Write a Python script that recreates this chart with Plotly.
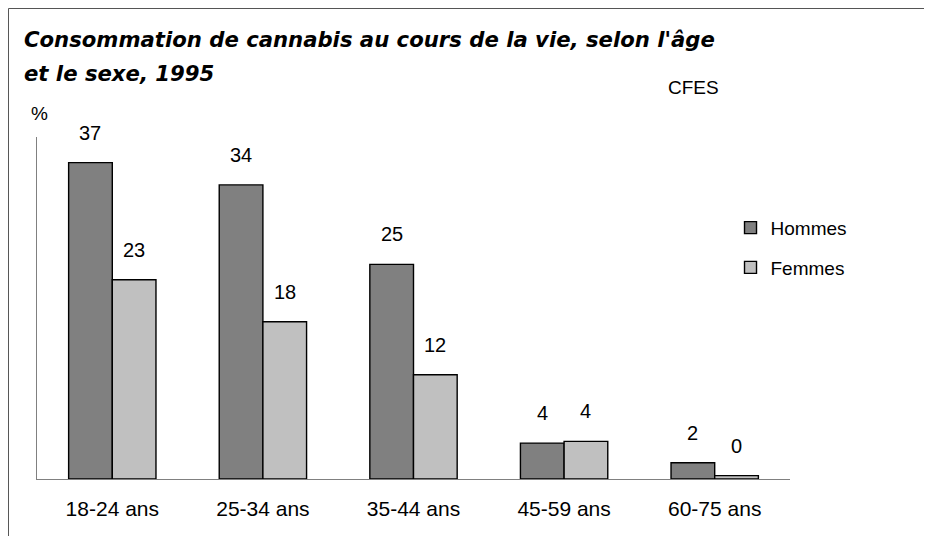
import plotly.graph_objects as go

categories = ["18-24 ans", "25-34 ans", "35-44 ans", "45-59 ans", "60-75 ans"]
hommes = [37.0, 34.4, 25.1, 4.2, 1.9]
femmes = [23.3, 18.4, 12.2, 4.4, 0.4]
series_names = ["Hommes", "Femmes"]
title_lines = ["Consommation de cannabis au cours de la vie, selon l'âge", "et le sexe, 1995"]
source = "CFES"
unit = "%"

DARK = "#808080"
LIGHT = "#c0c0c0"
FONT = "Liberation Sans, Arial, sans-serif"
BARGAP = 0.42

fig = go.Figure()
fig.add_trace(go.Bar(x=categories, y=hommes, name=series_names[0], legendgroup="h",
                     marker=dict(color=DARK, line=dict(color="black", width=1.4))))
fig.add_trace(go.Bar(x=categories, y=femmes, name=series_names[1], legendgroup="f",
                     marker=dict(color=LIGHT, line=dict(color="black", width=1.4))))

half = (1 - BARGAP) / 2
annotations = []
for k, vals in enumerate([hommes, femmes]):
    off = -half / 2 if k == 0 else half / 2
    for i, v in enumerate(vals):
        annotations.append(dict(x=i + off, y=v, xref="x", yref="y", text=f"{v:.0f}",
                                showarrow=False, yshift=30, yanchor="middle",
                                font=dict(size=20, color="black", family=FONT)))

annotations += [
    dict(x=-0.0195, y=1.284, xref="paper", yref="paper", text=f"<b><i>{title_lines[0]}</i></b>",
         showarrow=False, xanchor="left", yanchor="middle",
         font=dict(size=21.2, color="black", family="DejaVu Sans")),
    dict(x=-0.0195, y=1.187, xref="paper", yref="paper", text=f"<b><i>{title_lines[1]}</i></b>",
         showarrow=False, xanchor="left", yanchor="middle",
         font=dict(size=21.2, color="black", family="DejaVu Sans")),
    dict(x=0.8725, y=1.146, xref="paper", yref="paper", text=source, showarrow=False,
         xanchor="center", yanchor="middle", font=dict(size=19, color="black", family=FONT)),
    dict(x=0.003, y=1.070, xref="paper", yref="paper", text=unit, showarrow=False,
         xanchor="center", yanchor="middle", font=dict(size=19, color="black", family=FONT)),
]

shapes = [
    dict(type="line", xref="paper", yref="paper", x0=-0.03785, x1=1.2, y0=1.3757, y1=1.3757,
         line=dict(color="#555555", width=1)),
    dict(type="line", xref="paper", yref="paper", x0=-0.03785, x1=-0.03785, y0=1.3757, y1=-0.2,
         line=dict(color="#555555", width=1)),
]

fig.update_layout(
    width=932, height=536,
    margin=dict(l=29, r=150, t=129, b=65),
    paper_bgcolor="white", plot_bgcolor="white",
    barmode="group", bargap=BARGAP, bargroupgap=0,
    font=dict(family=FONT, size=20, color="black"),
    showlegend=True,
    legend=dict(x=0.921, y=0.79, xanchor="left", yanchor="top", traceorder="grouped",
                tracegroupgap=12, font=dict(size=19, color="black", family=FONT),
                bgcolor="rgba(0,0,0,0)"),
    annotations=annotations,
    shapes=shapes,
    xaxis=dict(showline=True, linecolor="#808080", linewidth=1, ticks="", showgrid=False,
               zeroline=False, ticklabelstandoff=11, tickfont=dict(size=21, family=FONT)),
    yaxis=dict(range=[0, 40], showline=True, linecolor="#808080", linewidth=1, ticks="",
               showticklabels=False, showgrid=False, zeroline=False),
)

fig.write_html("out.html")
